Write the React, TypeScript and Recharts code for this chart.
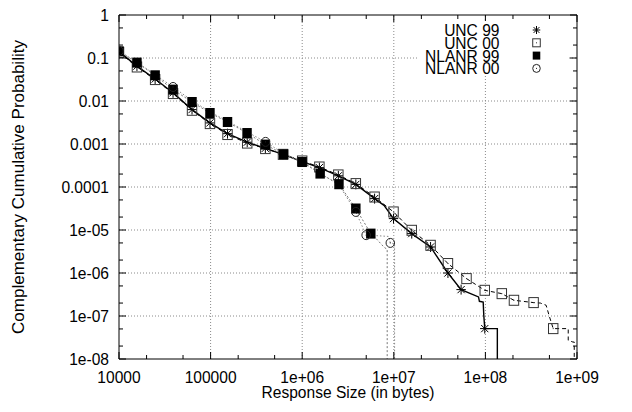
import React from 'react';
import { LineChart, Line, XAxis, YAxis, ReferenceLine, Label } from 'recharts';

const FONT = '"Liberation Sans", Arial, Helvetica, sans-serif';
const FS = 16.5;
const SQ = 0.944; // horizontal squash of the reference text

// ---------- axes ----------
const xMajor = [1e4, 1e5, 1e6, 1e7, 1e8, 1e9];
const xLabels = ['10000', '100000', '1e+06', '1e+07', '1e+08', '1e+09'];
const xTicks = [1e4, 2e4, 5e4, 1e5, 2e5, 5e5, 1e6, 2e6, 5e6, 1e7, 2e7, 5e7, 1e8, 2e8, 5e8, 1e9];
const xGrid = [1e5, 1e6, 1e7, 1e8];

const yMajor = [1, 0.1, 0.01, 0.001, 0.0001, 1e-5, 1e-6, 1e-7, 1e-8];
const yLabels = ['1', '0.1', '0.01', '0.001', '0.0001', '1e-05', '1e-06', '1e-07', '1e-08'];
const yTicks = [1e-8, 2e-8, 5e-8, 1e-7, 2e-7, 5e-7, 1e-6, 2e-6, 5e-6, 1e-5, 2e-5, 5e-5, 1e-4, 2e-4, 5e-4, 1e-3, 2e-3, 5e-3, 0.01, 0.02, 0.05, 0.1, 0.2, 0.5, 1];
const yGrid = [0.1, 0.01, 0.001, 0.0001, 1e-5, 1e-6, 1e-7];

const xTitle = 'Response Size (in bytes)';
const yTitle = 'Complementary Cumulative Probability';
const seriesNames = ['UNC 99', 'UNC 00', 'NLANR 99', 'NLANR 00'];

// ---------- series (x = bytes, y = CCDF, m = marker drawn) ----------
const unc99X = [1e4, 1.57e4, 2.48e4, 3.89e4, 6.27e4, 9.84e4, 1.53e5, 2.51e5, 3.96e5, 6.17e5, 1e6, 1.54e6, 2.48e6, 3.85e6, 6.17e6, 7.82e6, 9.93e6, 1.57e7, 2.52e7, 3.9e7, 5.43e7, 6.89e7, 8.41e7, 8.6e7, 9.46e7, 9.6e7, 9.84e7, 1.35e8, 1.35e8];
const unc99Y = [0.141, 0.0646, 0.0324, 0.0155, 0.00631, 0.00309, 0.00174, 0.0011, 0.000794, 0.000575, 0.000389, 0.000282, 0.000182, 0.000115, 5.37e-5, 3.75e-5, 1.84e-5, 8.24e-6, 4.03e-6, 1.0e-6, 4.11e-7, 3.32e-7, 2.77e-7, 2.2e-7, 2.12e-7, 1.05e-7, 5.09e-8, 5.09e-8, 1e-10];
const unc99M = [1, 1, 1, 1, 1, 1, 1, 1, 1, 1, 1, 1, 1, 1, 1, 0, 1, 1, 1, 1, 1, 0, 0, 0, 0, 0, 1, 0, 0];

const unc00X = [1e4, 1.57e4, 2.48e4, 3.89e4, 6.27e4, 9.84e4, 1.53e5, 2.51e5, 3.96e5, 6.17e5, 1e6, 1.54e6, 2.48e6, 3.85e6, 6.17e6, 9.93e6, 1.57e7, 2.52e7, 3.9e7, 6.22e7, 9.84e7, 1.51e8, 2.05e8, 3.36e8, 3.98e8, 4.6e8, 5.01e8, 5.5e8, 8.02e8, 8.02e8, 9.02e8, 9.33e8, 9.33e8];
const unc00Y = [0.135, 0.0618, 0.0315, 0.0149, 0.00608, 0.00298, 0.00166, 0.00105, 0.000782, 0.000575, 0.000403, 0.000292, 0.000191, 0.00012, 5.85e-5, 2.63e-5, 9.84e-6, 4.41e-6, 1.66e-6, 7.41e-7, 3.96e-7, 3.31e-7, 2.32e-7, 2.05e-7, 2.0e-7, 1.78e-7, 9.55e-8, 5.09e-8, 5.09e-8, 2.72e-8, 2.48e-8, 2.48e-8, 1e-10];
const unc00M = [1, 1, 1, 1, 1, 1, 1, 1, 1, 1, 1, 1, 1, 1, 1, 1, 1, 1, 1, 1, 1, 1, 1, 1, 0, 0, 0, 1, 0, 0, 0, 0, 0];

const nl99X = [1e4, 1.57e4, 2.48e4, 3.89e4, 6.27e4, 9.84e4, 1.53e5, 2.5e5, 3.96e5, 6.27e5, 1e6, 1.57e6, 2.52e6, 3.85e6, 5.61e6, 6.17e6, 7.82e6, 8.47e6, 8.47e6];
const nl99Y = [0.143, 0.0782, 0.0396, 0.0184, 0.00948, 0.00526, 0.00325, 0.0018, 0.000968, 0.000575, 0.000381, 0.000205, 0.000116, 3.16e-5, 8.24e-6, 6.92e-6, 3.98e-6, 3.55e-6, 1e-10];
const nl99M = [1, 1, 1, 1, 1, 1, 1, 1, 1, 1, 1, 1, 1, 1, 1, 0, 0, 0, 0];

const nl00X = [1e4, 1.57e4, 2.48e4, 3.89e4, 6.27e4, 9.84e4, 1.53e5, 2.51e5, 3.98e5, 6.27e5, 1e6, 1.57e6, 2.52e6, 3.85e6, 4.99e6, 6.31e6, 8.81e6, 9.16e6, 1.02e7, 1.02e7];
const nl00Y = [0.145, 0.08, 0.041, 0.0212, 0.0102, 0.0056, 0.0034, 0.0019, 0.00112, 0.0006, 0.00039, 0.000207, 0.000112, 2.63e-5, 7.59e-6, 7.41e-6, 7.08e-6, 5.01e-6, 4.8e-6, 1e-10];
const nl00M = [1, 0, 0, 1, 0, 0, 0, 0, 1, 0, 0, 0, 0, 1, 1, 0, 0, 1, 0, 0];

const build = (xs: number[], ys: number[], ms: number[]) =>
  xs.map((x, i) => ({ x, y: ys[i], m: ms[i] }));

const unc99 = build(unc99X, unc99Y, unc99M);
const unc00 = build(unc00X, unc00Y, unc00M);
const nl99 = build(nl99X, nl99Y, nl99M);
const nl00 = build(nl00X, nl00Y, nl00M);

// ---------- text helper (slightly condensed like the reference) ----------
const SqText = ({ x, y, anchor, children }: { x: number; y: number; anchor: string; children: any }) => (
  <g transform={`translate(${x},${y}) scale(${SQ},1)`}>
    <text x={0} y={0} textAnchor={anchor as any} fontFamily={FONT} fontSize={FS} fill="#000">
      {children}
    </text>
  </g>
);

// ---------- markers ----------
type MP = { cx: number; cy: number; s: number };
const StarMark = ({ cx, cy, s }: MP) => {
  const d = s * 0.72;
  const sx = s * SQ;
  return (
    <g stroke="#000" strokeWidth={1}>
      <line x1={cx - sx} x2={cx + sx} y1={cy} y2={cy} />
      <line x1={cx} x2={cx} y1={cy - s} y2={cy + s} />
      <line x1={cx - d} x2={cx + d} y1={cy - d} y2={cy + d} />
      <line x1={cx - d} x2={cx + d} y1={cy + d} y2={cy - d} />
    </g>
  );
};
const OpenSquare = ({ cx, cy, s }: MP) => (
  <g>
    <rect x={cx - s * SQ} y={cy - s} width={2 * s * SQ} height={2 * s} fill="none" stroke="#333" strokeWidth={1} />
    <rect x={cx - 0.5} y={cy - 0.5} width={1} height={1} fill="#333" />
  </g>
);
const FilledSquare = ({ cx, cy, s }: MP) => (
  <rect x={cx - s * SQ} y={cy - s} width={2 * s * SQ} height={2 * s} fill="#000" />
);
const OpenCircle = ({ cx, cy, s }: MP) => (
  <g>
    <ellipse cx={cx} cy={cy} rx={s * SQ} ry={s} fill="none" stroke="#222" strokeWidth={1} />
    <rect x={cx - 0.5} y={cy - 0.5} width={1} height={1} fill="#222" />
  </g>
);

const makeDot = (Comp: any, s: number, tag: string) => (p: any) => {
  const key = `${tag}-${p.index}`;
  if (!p.payload || !p.payload.m || p.cx == null || p.cy == null) return <g key={key} />;
  return (
    <g key={key}>
      <Comp cx={p.cx} cy={p.cy} s={s} />
    </g>
  );
};

// ---------- ticks ----------
const findMajor = (arr: number[], v: number) => arr.findIndex((m) => Math.abs(v / m - 1) < 1e-6);

const BottomTick = (props: any) => {
  const { x, y, payload } = props;
  const i = findMajor(xMajor, payload.value);
  const len = i >= 0 ? 7 : 4;
  return (
    <g>
      <line x1={x} x2={x} y1={y} y2={y - len} stroke="#000" strokeWidth={1} />
      {i >= 0 && (
        <SqText x={x} y={y + 24} anchor="middle">
          {xLabels[i]}
        </SqText>
      )}
    </g>
  );
};
const TopTick = (props: any) => {
  const { x, y, payload } = props;
  const i = findMajor(xMajor, payload.value);
  const len = i >= 0 ? 7 : 4;
  return <line x1={x} x2={x} y1={y} y2={y + len} stroke="#000" strokeWidth={1} />;
};
const LeftTick = (props: any) => {
  const { x, y, payload } = props;
  const i = findMajor(yMajor, payload.value);
  const len = i >= 0 ? 7 : 4;
  return (
    <g>
      <line x1={x} x2={x + len} y1={y} y2={y} stroke="#000" strokeWidth={1} />
      {i >= 0 && (
        <SqText x={x - 10} y={y + 6} anchor="end">
          {yLabels[i]}
        </SqText>
      )}
    </g>
  );
};
const RightTick = (props: any) => {
  const { x, y, payload } = props;
  const i = findMajor(yMajor, payload.value);
  const len = i >= 0 ? 7 : 4;
  return <line x1={x} x2={x - len} y1={y} y2={y} stroke="#000" strokeWidth={1} />;
};

const XTitle = (props: any) => {
  const vb = props.viewBox || { x: 0, y: 0, width: 0, height: 0 };
  return (
    <SqText x={vb.x + vb.width / 2} y={vb.y + 39} anchor="middle">
      {xTitle}
    </SqText>
  );
};

const W = 632;
const H = 412;

const legendMarks = [StarMark, OpenSquare, FilledSquare, OpenCircle];

export default function App() {
  return (
    <div style={{ position: 'relative', width: W, height: H, margin: '-8px 0 0 -8px' }}>
      <LineChart width={W} height={H} margin={{ top: 14, right: 54, bottom: 13, left: 0 }}>
        <XAxis
          xAxisId="b"
          dataKey="x"
          type="number"
          scale="log"
          domain={[1e4, 1e9]}
          allowDataOverflow
          ticks={xTicks}
          interval={0}
          tick={<BottomTick />}
          tickLine={false}
          tickSize={0}
          tickMargin={0}
          axisLine={{ stroke: '#000', strokeWidth: 1 }}
          height={40}
          label={<Label content={XTitle} />}
        />
        <XAxis
          xAxisId="t"
          orientation="top"
          dataKey="x"
          type="number"
          scale="log"
          domain={[1e4, 1e9]}
          allowDataOverflow
          ticks={xTicks}
          interval={0}
          tick={<TopTick />}
          tickLine={false}
          tickSize={0}
          tickMargin={0}
          axisLine={{ stroke: '#000', strokeWidth: 1 }}
          height={1}
        />
        <YAxis
          yAxisId="l"
          dataKey="y"
          type="number"
          scale="log"
          domain={[1e-8, 1]}
          allowDataOverflow
          ticks={yTicks}
          interval={0}
          tick={<LeftTick />}
          tickLine={false}
          tickSize={0}
          tickMargin={0}
          axisLine={{ stroke: '#000', strokeWidth: 1 }}
          width={119}
          label={{ value: yTitle, angle: -90, position: 'insideLeft', offset: 18, style: { fontFamily: FONT, fontSize: 17, fill: '#000', textAnchor: 'middle' } }}
        />
        <YAxis
          yAxisId="r"
          orientation="right"
          dataKey="y"
          type="number"
          scale="log"
          domain={[1e-8, 1]}
          allowDataOverflow
          ticks={yTicks}
          interval={0}
          tick={<RightTick />}
          tickLine={false}
          tickSize={0}
          tickMargin={0}
          axisLine={{ stroke: '#000', strokeWidth: 1 }}
          width={1}
        />
        {xGrid.map((v) => (
          <ReferenceLine key={`gx${v}`} x={v} xAxisId="b" yAxisId="l" stroke="#8a8a8a" strokeDasharray="1 2" strokeWidth={1} />
        ))}
        {yGrid.map((v) => (
          <ReferenceLine key={`gy${v}`} y={v} xAxisId="b" yAxisId="l" stroke="#8a8a8a" strokeDasharray="1 2" strokeWidth={1} />
        ))}
        <Line
          data={unc99}
          xAxisId="b"
          yAxisId="l"
          dataKey="y"
          name={seriesNames[0]}
          type="linear"
          stroke="#000"
          strokeWidth={1.4}
          dot={makeDot(StarMark, 5, 'u99')}
          activeDot={false}
          isAnimationActive={false}
        />
        <Line
          data={unc00}
          xAxisId="b"
          yAxisId="l"
          dataKey="y"
          name={seriesNames[1]}
          type="linear"
          stroke="#000"
          strokeWidth={1}
          strokeDasharray="4 3"
          dot={makeDot(OpenSquare, 5, 'u00')}
          activeDot={false}
          isAnimationActive={false}
        />
        <Line
          data={nl99}
          xAxisId="b"
          yAxisId="l"
          dataKey="y"
          name={seriesNames[2]}
          type="linear"
          stroke="#777"
          strokeWidth={1}
          strokeDasharray="2 2"
          dot={makeDot(FilledSquare, 5, 'n99')}
          activeDot={false}
          isAnimationActive={false}
        />
        <Line
          data={nl00}
          xAxisId="b"
          yAxisId="l"
          dataKey="y"
          name={seriesNames[3]}
          type="linear"
          stroke="#888"
          strokeWidth={1}
          strokeDasharray="1.5 2"
          dot={makeDot(OpenCircle, 4.5, 'n00')}
          activeDot={false}
          isAnimationActive={false}
        />
      </LineChart>
      <svg width={W} height={H} style={{ position: 'absolute', left: 0, top: 0, pointerEvents: 'none' }}>
        <rect x={418} y={21} width={150} height={55} fill="#fff" />
        {seriesNames.map((n, i) => {
          const cy = 30 + i * 12.8;
          const M = legendMarks[i];
          return (
            <g key={n}>
              <SqText x={499.5} y={cy + 6} anchor="end">
                {n}
              </SqText>
              <M cx={536.5} cy={cy} s={4} />
            </g>
          );
        })}
      </svg>
    </div>
  );
}
